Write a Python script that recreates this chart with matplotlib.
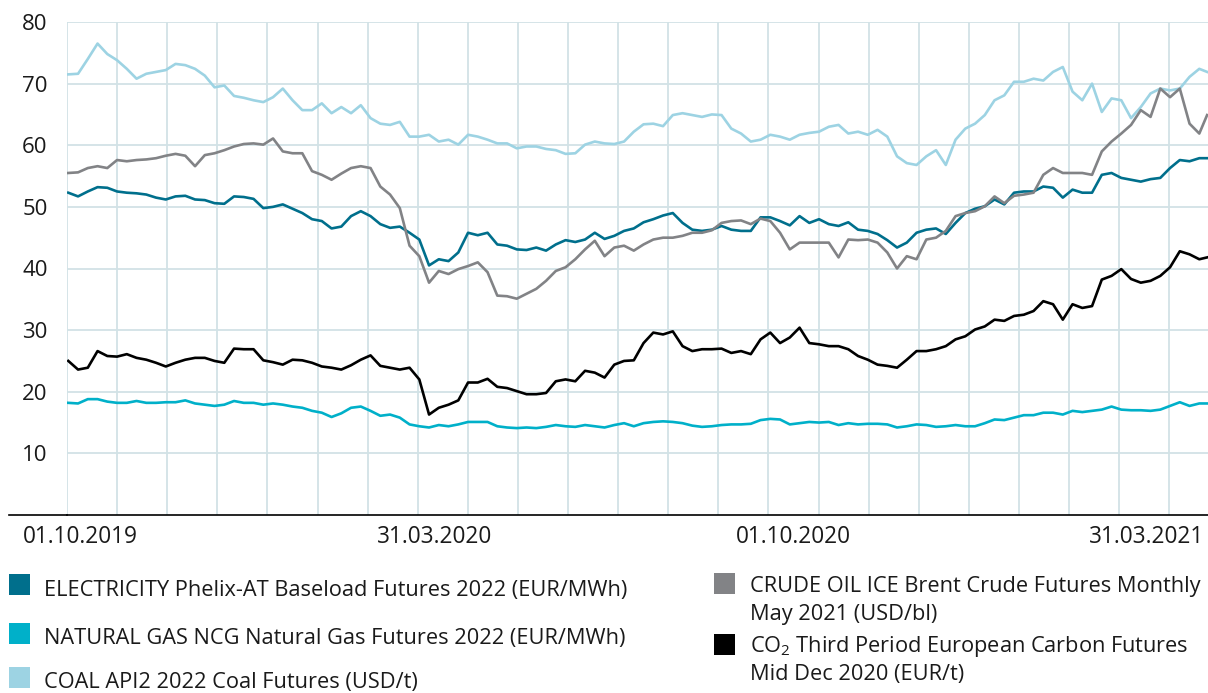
import numpy as np
import pandas as pd
import matplotlib
matplotlib.use("Agg")
import matplotlib.pyplot as plt
from matplotlib.patches import Rectangle

plt.rcParams["font.family"] = ["Open Sans", "DejaVu Sans"]
plt.rcParams["mathtext.fontset"] = "custom"
plt.rcParams["mathtext.rm"] = "Open Sans"
plt.rcParams["mathtext.default"] = "regular"

# sample dates: days since 01.10.2019
start = pd.Timestamp("2019-10-01")
days = np.append(np.arange(-6, 575, 5), 578)

electricity = [
    52.3, 51.7, 52.5, 53.2, 53.1, 52.5, 52.3, 52.2, 52.0, 51.5,
    51.2, 51.7, 51.8, 51.2, 51.1, 50.6, 50.5, 51.7, 51.6, 51.3,
    49.8, 50.0, 50.4, 49.7, 49.0, 48.0, 47.7, 46.5, 46.8, 48.5,
    49.3, 48.5, 47.2, 46.6, 46.8, 45.8, 44.7, 40.5, 41.5, 41.2,
    42.6, 45.8, 45.4, 45.8, 43.9, 43.7, 43.1, 43.0, 43.4, 42.9,
    43.9, 44.6, 44.3, 44.7, 45.8, 44.8, 45.3, 46.1, 46.5, 47.5,
    48.0, 48.6, 49.0, 47.4, 46.3, 46.1, 46.3, 46.9, 46.3, 46.1,
    46.1, 48.3, 48.3, 47.7, 47.0, 48.5, 47.4, 48.0, 47.2, 46.9,
    47.5, 46.3, 46.1, 45.6, 44.6, 43.4, 44.2, 45.8, 46.3, 46.5,
    45.6, 47.4, 49.0, 49.7, 50.1, 51.2, 50.4, 52.3, 52.5, 52.5,
    53.3, 53.1, 51.5, 52.8, 52.3, 52.3, 55.2, 55.5, 54.7, 54.4,
    54.1, 54.5, 54.7, 56.3, 57.6, 57.4, 57.9, 57.9,
]
gas = [
    18.2, 18.1, 18.8, 18.8, 18.4, 18.2, 18.2, 18.5, 18.2, 18.2,
    18.3, 18.3, 18.6, 18.1, 17.9, 17.7, 17.9, 18.5, 18.2, 18.2,
    17.9, 18.1, 17.9, 17.6, 17.4, 16.9, 16.6, 15.9, 16.5, 17.4,
    17.6, 16.9, 16.1, 16.3, 15.8, 14.7, 14.4, 14.2, 14.6, 14.4,
    14.7, 15.1, 15.1, 15.1, 14.4, 14.2, 14.1, 14.2, 14.1, 14.3,
    14.6, 14.4, 14.3, 14.6, 14.4, 14.2, 14.6, 14.9, 14.4, 14.9,
    15.1, 15.2, 15.1, 14.9, 14.5, 14.3, 14.4, 14.6, 14.7, 14.7,
    14.8, 15.4, 15.6, 15.5, 14.7, 14.9, 15.1, 15.0, 15.1, 14.6,
    14.9, 14.7, 14.8, 14.8, 14.7, 14.2, 14.4, 14.7, 14.6, 14.3,
    14.4, 14.6, 14.4, 14.4, 14.9, 15.5, 15.4, 15.8, 16.2, 16.2,
    16.6, 16.6, 16.3, 16.9, 16.7, 16.9, 17.1, 17.6, 17.1, 17.0,
    17.0, 16.9, 17.1, 17.7, 18.3, 17.7, 18.1, 18.1,
]
coal = [
    71.5, 71.6, 74.0, 76.5, 74.8, 73.8, 72.4, 70.8, 71.6, 71.9,
    72.2, 73.2, 73.0, 72.4, 71.3, 69.4, 69.7, 68.0, 67.7, 67.3,
    67.0, 67.8, 69.2, 67.3, 65.7, 65.7, 66.8, 65.2, 66.2, 65.2,
    66.5, 64.4, 63.5, 63.3, 63.8, 61.4, 61.4, 61.7, 60.6, 60.9,
    60.1, 61.7, 61.4, 60.9, 60.3, 60.3, 59.5, 59.8, 59.8, 59.4,
    59.2, 58.6, 58.7, 60.1, 60.6, 60.3, 60.2, 60.6, 62.2, 63.4,
    63.5, 63.1, 64.9, 65.2, 64.9, 64.6, 65.0, 64.9, 62.7, 61.9,
    60.6, 60.9, 61.7, 61.4, 60.9, 61.7, 62.0, 62.2, 63.0, 63.3,
    61.9, 62.2, 61.7, 62.5, 61.4, 58.2, 57.1, 56.8, 58.2, 59.2,
    56.8, 60.9, 62.7, 63.5, 64.9, 67.3, 68.1, 70.3, 70.3, 70.8,
    70.5, 71.9, 72.7, 68.7, 67.3, 70.0, 65.4, 67.6, 67.3, 64.4,
    66.2, 68.4, 69.2, 68.9, 69.2, 71.1, 72.4, 71.9,
]
crude = [
    55.5, 55.6, 56.3, 56.6, 56.3, 57.6, 57.4, 57.6, 57.7, 57.9,
    58.3, 58.6, 58.3, 56.6, 58.4, 58.7, 59.2, 59.8, 60.2, 60.3,
    60.1, 61.1, 59.0, 58.7, 58.7, 55.8, 55.2, 54.4, 55.4, 56.3,
    56.6, 56.3, 53.3, 52.0, 49.8, 43.7, 42.0, 37.7, 39.6, 39.1,
    39.9, 40.4, 41.0, 39.4, 35.6, 35.5, 35.1, 35.9, 36.7, 38.0,
    39.6, 40.2, 41.5, 43.1, 44.5, 42.0, 43.4, 43.7, 42.9, 43.9,
    44.7, 45.0, 45.0, 45.3, 45.8, 45.8, 46.2, 47.4, 47.7, 47.8,
    47.2, 48.1, 47.7, 45.8, 43.1, 44.2, 44.2, 44.2, 44.2, 41.8,
    44.7, 44.6, 44.7, 44.2, 42.6, 40.0, 42.0, 41.5, 44.7, 45.0,
    46.1, 48.5, 49.0, 49.3, 50.1, 51.7, 50.6, 51.8, 52.0, 52.3,
    55.2, 56.3, 55.5, 55.5, 55.5, 55.2, 59.0, 60.6, 61.9, 63.3,
    65.7, 64.6, 69.2, 67.8, 69.2, 63.5, 61.9, 64.9,
]
co2 = [
    25.0, 23.6, 23.9, 26.6, 25.8, 25.7, 26.1, 25.5, 25.2, 24.7,
    24.1, 24.7, 25.2, 25.5, 25.5, 25.0, 24.7, 27.0, 26.9, 26.9,
    25.1, 24.8, 24.4, 25.2, 25.1, 24.7, 24.1, 23.9, 23.6, 24.3,
    25.2, 25.9, 24.2, 23.9, 23.6, 23.9, 22.0, 16.3, 17.4, 17.9,
    18.6, 21.5, 21.5, 22.1, 20.8, 20.6, 20.1, 19.6, 19.6, 19.8,
    21.7, 22.0, 21.7, 23.4, 23.1, 22.3, 24.4, 25.0, 25.1, 27.9,
    29.6, 29.3, 29.8, 27.4, 26.6, 26.9, 26.9, 27.0, 26.3, 26.6,
    26.1, 28.5, 29.6, 27.9, 28.8, 30.4, 27.9, 27.7, 27.4, 27.4,
    26.9, 25.8, 25.2, 24.4, 24.2, 23.9, 25.2, 26.6, 26.6, 26.9,
    27.4, 28.5, 29.0, 30.1, 30.6, 31.7, 31.5, 32.3, 32.5, 33.1,
    34.7, 34.2, 31.7, 34.2, 33.6, 33.9, 38.2, 38.8, 39.9, 38.3,
    37.7, 38.0, 38.8, 40.2, 42.8, 42.3, 41.5, 41.8,
]

tick_dates = ["2019-10-01", "2020-03-31", "2020-10-01", "2021-03-31"]
tick_labels = ["01.10.2019", "31.03.2020", "01.10.2020", "31.03.2021"]
tick_days = [(pd.Timestamp(d) - start).days for d in tick_dates]

series = [
    ("ELECTRICITY Phelix-AT Baseload Futures 2022 (EUR/MWh)", electricity, "#006f8c"),
    ("NATURAL GAS NCG Natural Gas Futures 2022 (EUR/MWh)", gas, "#00b0c9"),
    ("COAL API2 2022 Coal Futures (USD/t)", coal, "#9dd3e3"),
    ("CRUDE OIL ICE Brent Crude Futures Monthly\nMay 2021 (USD/bl)", crude, "#828386"),
    ("CO$_2$ Third Period European Carbon Futures\nMid Dec 2020 (EUR/t)", co2, "#000000"),
]

W, H = 1208, 693
fig = plt.figure(figsize=(W / 100, H / 100), dpi=100)
ax = fig.add_axes([67 / W, 1 - 515 / H, (W - 67) / W, (515 - 22) / H])

px_per_day = 1.95
x0 = (67 - 80) / px_per_day
x1 = (W - 80) / px_per_day
ax.set_xlim(x0, x1)
ax.set_ylim(0, 80)

grid_col = "#d2e2e6"
for k in range(23):
    ax.axvline(x0 + k * 50.1 / px_per_day, color=grid_col, lw=1.3, zorder=0)
for v in range(10, 81, 10):
    ax.axhline(v, color=grid_col, lw=1.3, zorder=0)

for label, vals, col in series:
    ax.plot(days, vals, color=col, lw=1.9, solid_joinstyle="round", zorder=2)

for s in ["top", "right", "left"]:
    ax.spines[s].set_visible(False)
ax.spines["bottom"].set_color("black")
ax.spines["bottom"].set_linewidth(1.2)
ax.plot([-58 / (W - 67), 0], [0, 0], transform=ax.transAxes, color="black",
        lw=1.2, clip_on=False)

txt = "#1a1a1a"
ax.set_yticks(range(10, 81, 10))
ax.set_xticks(tick_days)
ax.set_xticklabels(tick_labels)
ax.tick_params(axis="y", length=0, pad=14, labelsize=16, labelcolor=txt)
ax.tick_params(axis="x", length=0, pad=7, labelsize=16.3, labelcolor=txt)

# legend, two columns
left_rows = [(574, 596), (623, 644), (667, 688)]
right_rows = [(573, 592), (634, 652)]
for i, (label, vals, col) in enumerate(series):
    if i < 3:
        top, base = left_rows[i]
        sx, tx = 9, 44
    else:
        top, base = right_rows[i - 3]
        sx, tx = 714, 750
    fig.add_artist(Rectangle((sx / W, 1 - (top + 21) / H), 21 / W, 21 / H,
                             transform=fig.transFigure, color=col, lw=0))
    for j, line in enumerate(label.split("\n")):
        fig.text(tx / W, 1 - (base + 28 * j) / H, line, fontsize=15.7,
                 color=txt, va="baseline", ha="left")

fig.savefig("out.png", dpi=100)
